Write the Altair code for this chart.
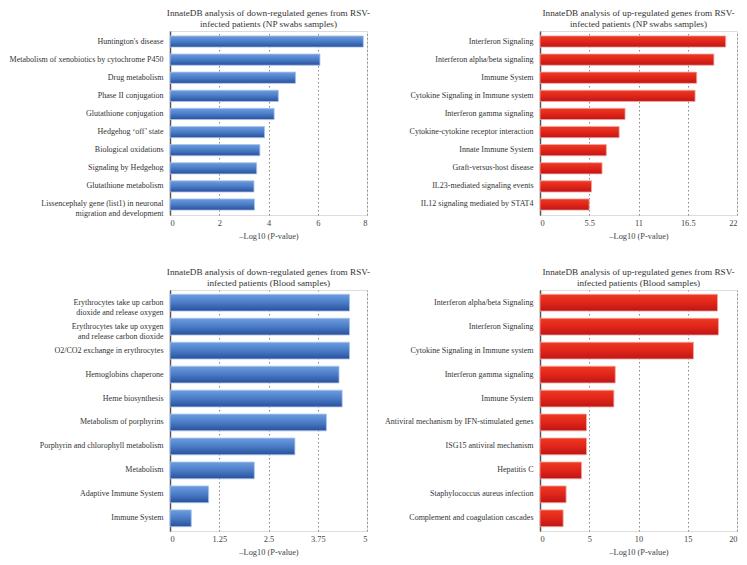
import altair as alt
import pandas as pd

FONT = "Liberation Serif"

# Panel 1: down-regulated, NP swabs
p1_terms = ["Huntington's disease", "Metabolism of xenobiotics by cytochrome P450", "Drug metabolism",
            "Phase II conjugation", "Glutathione conjugation", "Hedgehog \u2018off\u2019 state",
            "Biological oxidations", "Signaling by Hedgehog", "Glutathione metabolism",
            "Lissencephaly gene (list1) in neuronal|migration and development"]
p1_vals = [7.85, 6.09, 5.1, 4.4, 4.23, 3.84, 3.65, 3.52, 3.41, 3.43]
p1_ticks = [0, 2, 4, 6, 8]

# Panel 2: up-regulated, NP swabs
p2_terms = ["Interferon Signaling", "Interferon alpha/beta signaling", "Immune System",
            "Cytokine Signaling in Immune system", "Interferon gamma signaling",
            "Cytokine-cytokine receptor interaction", "Innate Immune System", "Graft-versus-host disease",
            "IL23-mediated signaling events", "IL12 signaling mediated by STAT4"]
p2_vals = [20.74, 19.42, 17.5, 17.32, 9.5, 8.84, 7.41, 6.93, 5.75, 5.49]
p2_ticks = [0, 5.5, 11, 16.5, 22]

# Panel 3: down-regulated, Blood
p3_terms = ["Erythrocytes take up carbon|dioxide and release oxygen",
            "Erythrocytes take up oxygen|and release carbon dioxide",
            "O2/CO2 exchange in erythrocytes", "Hemoglobins chaperone", "Heme biosynthesis",
            "Metabolism of porphyrins", "Porphyrin and chlorophyll metabolism", "Metabolism",
            "Adaptive Immune System", "Immune System"]
p3_vals = [4.556, 4.556, 4.556, 4.29, 4.37, 3.97, 3.17, 2.14, 0.98, 0.54]
p3_ticks = [0, 1.25, 2.5, 3.75, 5]

# Panel 4: up-regulated, Blood
p4_terms = ["Interferon alpha/beta Signaling", "Interferon Signaling", "Cytokine Signaling in Immune system",
            "Interferon gamma signaling", "Immune System", "Antiviral mechanism by IFN-stimulated genes",
            "ISG15 antiviral mechanism", "Hepatitis C", "Staphylococcus aureus infection",
            "Complement and coagulation cascades"]
p4_vals = [18.02, 18.12, 15.58, 7.64, 7.5, 4.72, 4.72, 4.22, 2.65, 2.35]
p4_ticks = [0, 5, 10, 15, 20]

titles = [
    ["InnateDB analysis of down-regulated genes from RSV-", "infected patients (NP swabs samples)"],
    ["InnateDB analysis of up-regulated genes from RSV-", "infected patients (NP swabs samples)"],
    ["InnateDB analysis of down-regulated genes from RSV-", "infected patients (Blood samples)"],
    ["InnateDB analysis of up-regulated genes from RSV-", "infected patients (Blood samples)"],
]

blue = alt.Gradient(gradient="linear", x1=0, x2=0, y1=0, y2=1,
                    stops=[alt.GradientStop(offset=0, color="#6d9de0"),
                           alt.GradientStop(offset=0.5, color="#4a7cc6"),
                           alt.GradientStop(offset=1, color="#2a4f9c")])
red = alt.Gradient(gradient="linear", x1=0, x2=0, y1=0, y2=1,
                   stops=[alt.GradientStop(offset=0, color="#ee3a22"),
                          alt.GradientStop(offset=0.5, color="#e0251a"),
                          alt.GradientStop(offset=1, color="#bd1616")])


def panel(terms, vals, ticks, title, fill, stroke, w, h, pin, pout):
    df = pd.DataFrame({"term": terms, "val": vals})
    return alt.Chart(df).mark_bar(color=fill, stroke=stroke, strokeWidth=0.8).encode(
        x=alt.X("val:Q",
                scale=alt.Scale(domain=[ticks[0], ticks[-1]], nice=False, zero=True),
                axis=alt.Axis(values=ticks, format=".3~g", title="\u2013Log10 (P-value)",
                              grid=True, gridDash=[1.5, 2.5], gridColor="#888", gridWidth=1,
                              domain=False, ticks=False, labelPadding=3, titlePadding=5,
                              labelFont=FONT, labelFontSize=8.4, labelColor="#444",
                              titleFont=FONT, titleFontSize=8.4, titleFontWeight="normal",
                              titleColor="#444")),
        y=alt.Y("term:N", sort=terms,
                scale=alt.Scale(paddingInner=pin, paddingOuter=pout),
                axis=alt.Axis(title=None, domain=True, domainColor="#555", domainWidth=1.5,
                              ticks=False, labelPadding=7, labelLimit=400,
                              labelExpr="split(datum.label, '|')",
                              labelFont=FONT, labelFontSize=8, labelColor="#333",
                              labelLineHeight=10)),
    ).properties(
        width=w, height=h,
        title=alt.TitleParams(title, font=FONT, fontSize=9.2, fontWeight="normal",
                              color="#333", anchor="middle", frame="group",
                              lineHeight=10.5, offset=2),
    )


c1 = panel(p1_terms, p1_vals, p1_ticks, titles[0], blue, "#a9c4ec", 197, 184, 0.38, 0.27)
c2 = panel(p2_terms, p2_vals, p2_ticks, titles[1], red, "#f2a6a0", 197, 184, 0.38, 0.27)
c3 = panel(p3_terms, p3_vals, p3_ticks, titles[2], blue, "#a9c4ec", 197, 241, 0.3, 0.18)
c4 = panel(p4_terms, p4_vals, p4_ticks, titles[3], red, "#f2a6a0", 197, 241, 0.3, 0.18)

chart = alt.concat(
    c1, c2, c3, c4, columns=2,
    spacing={"row": 75, "column": 173}, bounds="flush",
).properties(padding=0).configure_view(stroke=None).configure(background="white")

chart.save("out.html", embed_options={"renderer": "svg", "actions": False})
